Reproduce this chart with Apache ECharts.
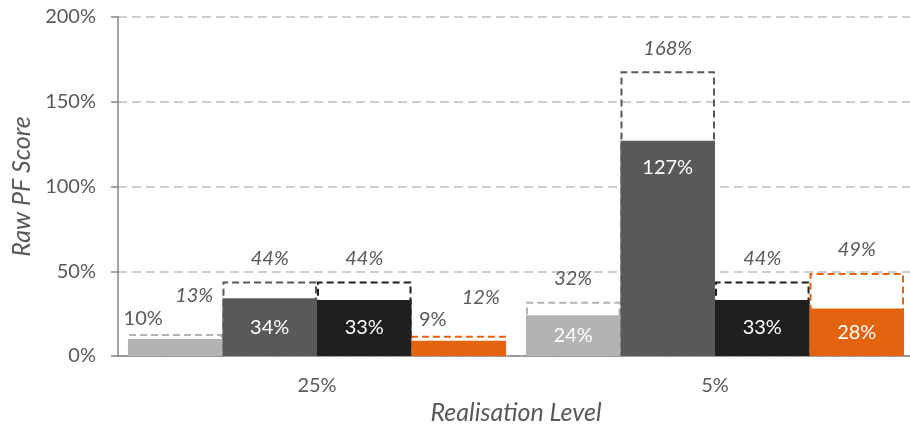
<!DOCTYPE html>
<html>
<head>
<meta charset="utf-8">
<script src="https://cdn.jsdelivr.net/npm/echarts@6/dist/echarts.min.js"></script>
<style>
  html, body { margin: 0; padding: 0; background: #fff; }
  #main { width: 910px; height: 427px; }
</style>
</head>
<body>
<div id="main"></div>
<script>
var categories = ['25%', '5%'];
var seriesNames = ['Light', 'Dark', 'Black', 'Orange'];
var actualValues = [
  [10, 24],
  [34, 127],
  [33, 33],
  [9, 28]
];
var potentialValues = [
  [13, 32],
  [44, 168],
  [44, 44],
  [12, 49]
];
var yTicks = [0, 50, 100, 150, 200];

var colors = ['#b3b3b3', '#58595b', '#1f1f1f', '#e4630f'];
var textGray = '#595959';
var font = 'Lato';

var chart = echarts.init(document.getElementById('main'));

// label tweaks per bar, like the Excel original which shifts crowded labels
var solidLabel = {
  '0-0': { position: 'top', color: textGray, offset: [-32, -6] },
  '3-0': { position: 'top', color: textGray, offset: [-26, -6] },
  '1-1': { position: 'insideTop', distance: 17 }
};
var dashLabel = {
  '0-0': { offset: [19, -15] },
  '3-0': { offset: [22, -15] }
};

var series = [];
seriesNames.forEach(function (name, i) {
  series.push({
    name: name + ' potential',
    type: 'bar',
    xAxisIndex: 1,
    barGap: 0,
    barCategoryGap: '5%',
    z: 1,
    itemStyle: {
      color: 'rgba(0,0,0,0)',
      borderColor: colors[i],
      borderWidth: 2,
      borderType: [7, 4]
    },
    label: {
      show: true,
      position: 'top',
      distance: 13,
      fontFamily: font,
      fontStyle: 'italic',
      fontSize: 20,
      color: textGray,
      formatter: '{c}%'
    },
    data: potentialValues[i].map(function (v, j) {
      var d = { value: v };
      if (dashLabel[i + '-' + j]) d.label = dashLabel[i + '-' + j];
      return d;
    })
  });
});
seriesNames.forEach(function (name, i) {
  series.push({
    name: name,
    type: 'bar',
    xAxisIndex: 0,
    barGap: 0,
    barCategoryGap: '5%',
    z: 2,
    itemStyle: { color: colors[i] },
    label: {
      show: true,
      position: 'inside',
      fontFamily: font,
      fontSize: 20,
      color: '#fff',
      formatter: '{c}%'
    },
    data: actualValues[i].map(function (v, j) {
      var d = { value: v };
      if (solidLabel[i + '-' + j]) d.label = solidLabel[i + '-' + j];
      return d;
    })
  });
});

var option = {
  backgroundColor: '#fff',
  animation: false,
  grid: { left: 118, width: 796, top: 17, height: 339, outerBoundsMode: 'none', containLabel: false },
  xAxis: [{
    type: 'category',
    data: categories,
    name: 'Realisation Level',
    nameLocation: 'middle',
    nameGap: 40,
    nameTextStyle: { fontFamily: font, fontStyle: 'italic', fontSize: 25, color: textGray },
    axisLine: { lineStyle: { color: '#868686', width: 1.5 } },
    axisTick: { length: 7, lineStyle: { color: '#868686', width: 1.5 } },
    axisLabel: { fontFamily: font, fontSize: 20, color: textGray, margin: 20 }
  }, {
    type: 'category',
    data: categories,
    show: false
  }],
  yAxis: {
    type: 'value',
    min: 0,
    max: 200,
    interval: 50,
    name: 'Raw PF Score',
    nameLocation: 'middle',
    nameGap: 81,
    nameTextStyle: { fontFamily: font, fontStyle: 'italic', fontSize: 25, color: textGray },
    axisLine: { show: true, lineStyle: { color: '#868686', width: 1.5 } },
    axisTick: { show: true, length: 7, lineStyle: { color: '#868686', width: 1.5 } },
    axisLabel: {
      fontFamily: font, fontSize: 20, color: textGray, margin: 22,
      formatter: function (v) { return yTicks.indexOf(v) >= 0 ? v + '%' : ''; }
    },
    splitLine: { lineStyle: { color: '#bfbfbf', width: 1.5, type: [9, 5] } }
  },
  series: series
};

chart.setOption(option);
</script>
</body>
</html>
